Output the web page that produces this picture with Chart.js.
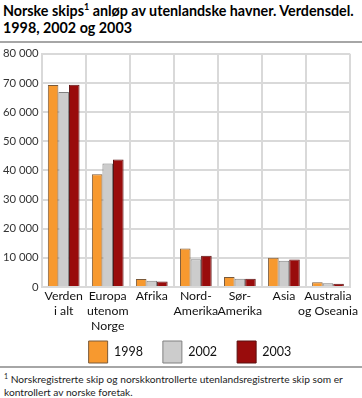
<!DOCTYPE html>
<html>
<head>
<meta charset="utf-8">
<script src="https://cdn.jsdelivr.net/npm/chart.js@4"></script>
<style>
  body { margin: 0; width: 362px; height: 398px; background: #fff; font-family: Lato, sans-serif; color: #000; overflow: hidden; position: relative; }
  #title { position: absolute; left: 3px; top: 2px; font-weight: bold; font-size: 14.3px; line-height: 17px; white-space: nowrap; }
  #title sup { font-size: 9px; line-height: 0; }
  .rule { position: absolute; left: 0; width: 362px; height: 2px; background: #a6a6a6; }
  #wrap { position: absolute; left: 0; top: 44px; width: 362px; height: 344px; }
  #note { position: absolute; left: 4px; top: 370px; font-size: 10.2px; line-height: 13px; color: #222; white-space: nowrap; }
  #note sup { font-size: 7px; }
</style>
</head>
<body>
<div id="title">Norske skips<sup>1</sup> anløp av utenlandske havner. Verdensdel.<br>1998, 2002 og 2003</div>
<div class="rule" style="top:41px"></div>
<div class="rule" style="top:366px"></div>
<div id="note"><sup>1</sup> Norskregistrerte skip og norskkontrollerte utenlandsregistrerte skip som er<br>kontrollert av norske foretak.</div>
<div id="wrap"><canvas id="chart"></canvas></div>
<script>
const regions = [['Verden', 'i alt'], ['Europa', 'utenom', 'Norge'], 'Afrika', ['Nord-', 'Amerika'], ['Sør-', 'Amerika'], 'Asia', ['Australia', 'og Oseania']];
const years = ['1998', '2002', '2003'];
const calls1998 = [69300, 38700, 2700, 13200, 3400, 10000, 1600];
const calls2002 = [66900, 42400, 2100, 9500, 2800, 9000, 1250];
const calls2003 = [69400, 43700, 1900, 10700, 2800, 9400, 1100];

const fmt = v => String(v).replace(/\B(?=(\d{3})+(?!\d))/g, ' ');

const data = {
  labels: regions,
  datasets: [{
    label: years[0],
    data: calls1998,
    backgroundColor: '#f7992f',
    borderColor: '#7a5a3a',
    borderWidth: 1
  }, {
    label: years[1],
    data: calls2002,
    backgroundColor: '#cccccc',
    borderColor: '#808080',
    borderWidth: 1
  }, {
    label: years[2],
    data: calls2003,
    backgroundColor: '#990c0c',
    borderColor: '#5a1010',
    borderWidth: 1
  }]
};

Chart.defaults.font.family = 'Lato, sans-serif';
Chart.defaults.color = '#222';

// legend padding spaces the items apart; pull the legend back up under the axis labels
const LEGEND_PAD = 20;
const liftLegend = {
  id: 'liftLegend',
  afterLayout(chart) {
    const lg = chart.legend;
    lg.top -= 15; lg.bottom -= 15;
    lg.left += 15; lg.right += 15;
  }
};

var settings = {
  type: 'bar',
  data: data,
  options: {
    animation: false,
    responsive: true,
    maintainAspectRatio: false,
    layout: { padding: { top: 0, right: 12, left: 0, bottom: 0 } },
    datasets: { bar: { categoryPercentage: 0.72, barPercentage: 1 } },
    plugins: {
      tooltip: { enabled: false },
      legend: {
        position: 'bottom',
        labels: { boxWidth: 19, boxHeight: 22, padding: LEGEND_PAD, font: { size: 12.5 }, color: '#111' }
      }
    },
    scales: {
      x: {
        grid: { color: '#d9d9d9', lineWidth: 2, drawTicks: false },
        border: { color: '#d9d9d9', width: 2 },
        ticks: { font: { size: 12.3, lineHeight: 1.22 }, color: '#111', padding: 2, maxRotation: 0, autoSkip: false }
      },
      y: {
        min: 0, max: 80000,
        grid: { color: '#d9d9d9', lineWidth: 2, drawTicks: false },
        border: { color: '#d9d9d9', width: 2 },
        ticks: { stepSize: 10000, callback: v => fmt(v), font: { size: 11.3 }, color: '#333', padding: 3 }
      }
    }
  },
  plugins: [liftLegend]
};
var ctx = document.getElementById('chart').getContext('2d');
new Chart(ctx, settings);
</script>
</body>
</html>
